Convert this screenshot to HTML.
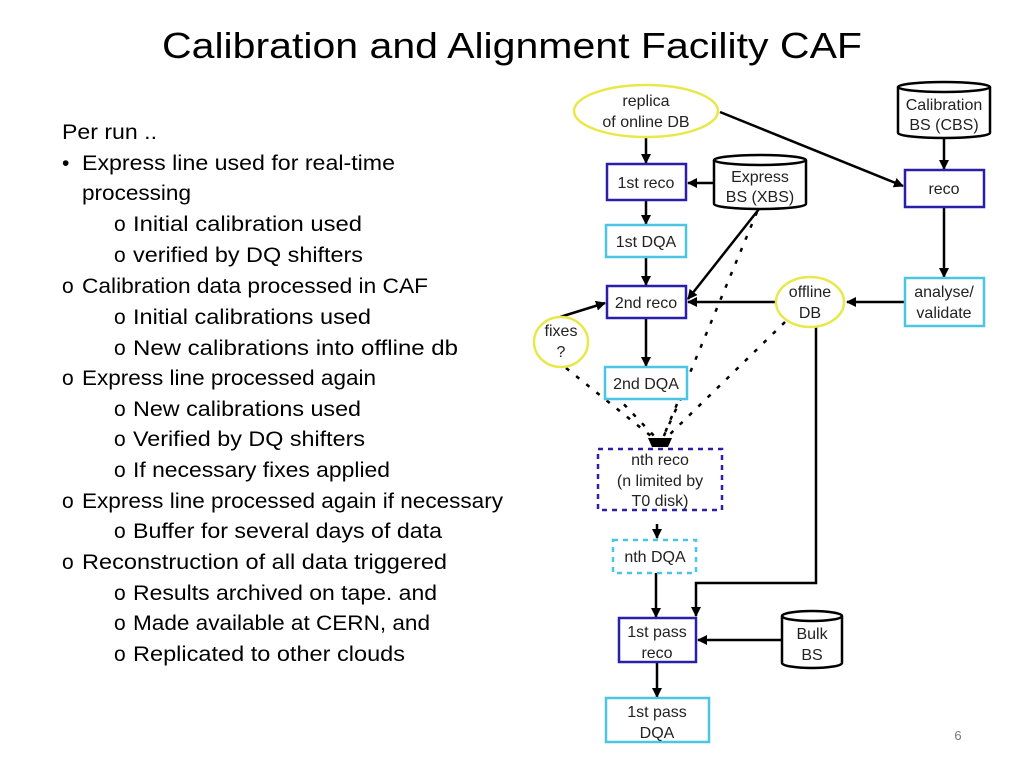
<!DOCTYPE html>
<html><head><meta charset="utf-8"><style>
html,body{margin:0;padding:0;background:#fff;}
svg{display:block;}
.t{font-family:"Liberation Sans",sans-serif;font-size:21px;fill:#000;}
.d{font-family:"Liberation Sans",sans-serif;font-size:16px;fill:#222;text-anchor:middle;}
</style></head><body>
<svg width="1024" height="768" viewBox="0 0 1024 768" xmlns="http://www.w3.org/2000/svg">
<defs>
<marker id="a" markerWidth="10" markerHeight="10" refX="9" refY="5" orient="auto" markerUnits="userSpaceOnUse"><path d="M0,0 L10,5 L0,10 z" fill="#000"/></marker>
</defs>
<text x="512" y="58" text-anchor="middle" style="font-family:'Liberation Sans',sans-serif;font-size:36px" textLength="700" lengthAdjust="spacingAndGlyphs">Calibration and Alignment Facility CAF</text>
<g class="t">
<text x="62" y="139" textLength="95" lengthAdjust="spacingAndGlyphs">Per run ..</text>
<text x="62" y="170">•</text>
<text x="82" y="170" textLength="313" lengthAdjust="spacingAndGlyphs">Express line used for real-time</text>
<text x="82" y="200" textLength="109" lengthAdjust="spacingAndGlyphs">processing</text>
<text x="114" y="231">o</text><text x="133" y="231" textLength="229" lengthAdjust="spacingAndGlyphs">Initial calibration used</text>
<text x="114" y="262">o</text><text x="133" y="262" textLength="230" lengthAdjust="spacingAndGlyphs">verified by DQ shifters</text>
<text x="62" y="293">o</text><text x="82" y="293" textLength="346" lengthAdjust="spacingAndGlyphs">Calibration data processed in CAF</text>
<text x="114" y="324">o</text><text x="133" y="324" textLength="238" lengthAdjust="spacingAndGlyphs">Initial calibrations used</text>
<text x="114" y="355">o</text><text x="133" y="355" textLength="325" lengthAdjust="spacingAndGlyphs">New calibrations into offline db</text>
<text x="62" y="385">o</text><text x="82" y="385" textLength="294" lengthAdjust="spacingAndGlyphs">Express line processed again</text>
<text x="114" y="416">o</text><text x="133" y="416" textLength="228" lengthAdjust="spacingAndGlyphs">New calibrations used</text>
<text x="114" y="446">o</text><text x="133" y="446" textLength="232" lengthAdjust="spacingAndGlyphs">Verified by DQ shifters</text>
<text x="114" y="477">o</text><text x="133" y="477" textLength="257" lengthAdjust="spacingAndGlyphs">If necessary fixes applied</text>
<text x="62" y="508">o</text><text x="82" y="508" textLength="421" lengthAdjust="spacingAndGlyphs">Express line processed again if necessary</text>
<text x="114" y="538">o</text><text x="133" y="538" textLength="309" lengthAdjust="spacingAndGlyphs">Buffer for several days of data</text>
<text x="62" y="569">o</text><text x="82" y="569" textLength="365" lengthAdjust="spacingAndGlyphs">Reconstruction of all data triggered</text>
<text x="114" y="600">o</text><text x="133" y="600" textLength="304" lengthAdjust="spacingAndGlyphs">Results archived on tape. and</text>
<text x="114" y="630">o</text><text x="133" y="630" textLength="297" lengthAdjust="spacingAndGlyphs">Made available at CERN, and</text>
<text x="114" y="661">o</text><text x="133" y="661" textLength="272" lengthAdjust="spacingAndGlyphs">Replicated to other clouds</text>
</g>
<text x="958" y="740" style="font-family:'Liberation Sans',sans-serif;font-size:13px;fill:#777" text-anchor="middle">6</text>

<g stroke="#000" stroke-width="2.5" fill="none">
<line x1="646" y1="138" x2="646" y2="163" marker-end="url(#a)"/>
<line x1="720" y1="112" x2="903" y2="186" marker-end="url(#a)"/>
<line x1="944" y1="138" x2="944" y2="169" marker-end="url(#a)"/>
<line x1="944" y1="207" x2="944" y2="277" marker-end="url(#a)"/>
<line x1="714" y1="183" x2="688" y2="183" marker-end="url(#a)"/>
<line x1="646" y1="200" x2="646" y2="224" marker-end="url(#a)"/>
<line x1="646" y1="257" x2="646" y2="285" marker-end="url(#a)"/>
<line x1="759" y1="209" x2="688" y2="299" marker-end="url(#a)"/>
<line x1="776" y1="302" x2="688" y2="302" marker-end="url(#a)"/>
<line x1="905" y1="302" x2="847" y2="302" marker-end="url(#a)"/>
<line x1="560" y1="317" x2="605" y2="303" marker-end="url(#a)"/>
<line x1="646" y1="318" x2="646" y2="366" marker-end="url(#a)"/>
<polyline points="816,326 816,583 696,583 696,616" marker-end="url(#a)"/>
<line x1="656" y1="573" x2="656" y2="617" marker-end="url(#a)"/>
<line x1="782" y1="640" x2="698" y2="640" marker-end="url(#a)"/>
<line x1="657" y1="662" x2="657" y2="697" marker-end="url(#a)"/>
<line x1="657" y1="524" x2="657" y2="538" marker-end="url(#a)"/>
</g>
<g stroke="#000" stroke-width="2.5" fill="none" stroke-dasharray="4,9">
<line x1="757" y1="212" x2="662" y2="440"/>
<line x1="785" y1="322" x2="664" y2="440"/>
<line x1="566" y1="368" x2="656" y2="440"/>
<line x1="687" y1="385" x2="662" y2="440"/>
<line x1="615" y1="395" x2="658" y2="440"/>
</g>
<path d="M648,438 L672,438 L668,447 L652,447 z" fill="#000"/>

<g stroke-width="2.5">
<ellipse cx="646" cy="111" rx="72" ry="26" fill="#fff" stroke="#e8e84a"/>
<ellipse cx="810" cy="302" rx="34" ry="25" fill="#fff" stroke="#e8e84a"/>
<ellipse cx="561" cy="342" rx="27" ry="25" fill="#fff" stroke="#e8e84a"/>
<rect x="607" y="164" width="79" height="36" fill="#fff" stroke="#2a1fa8"/>
<rect x="606" y="225" width="80" height="32" fill="#fff" stroke="#4cc4e4"/>
<rect x="607" y="286" width="79" height="32" fill="#fff" stroke="#2a1fa8"/>
<rect x="605" y="367" width="82" height="32" fill="#fff" stroke="#4cc4e4"/>
<rect x="905" y="170" width="79" height="37" fill="#fff" stroke="#2a1fa8"/>
<rect x="905" y="278" width="79" height="48" fill="#fff" stroke="#4cc4e4"/>
<rect x="598" y="449" width="124" height="61" fill="#fff" stroke="#2a1fa8" stroke-dasharray="5,5"/>
<rect x="613" y="540" width="83" height="33" fill="#fff" stroke="#4cc4e4" stroke-dasharray="5,5"/>
<rect x="619" y="618" width="77" height="44" fill="#fff" stroke="#2a1fa8"/>
<rect x="606" y="698" width="103" height="44" fill="#fff" stroke="#4cc4e4"/>
</g>
<g stroke="#000" stroke-width="2.5" fill="#fff">
<path d="M714,160 L714,204 A46,5 0 0 0 806,204 L806,160"/><ellipse cx="760" cy="160" rx="46" ry="5"/>
<path d="M898,87 L898,133 A46,5 0 0 0 990,133 L990,87"/><ellipse cx="944" cy="87" rx="46" ry="5"/>
<path d="M782,616 L782,663 A30,5 0 0 0 842,663 L842,616"/><ellipse cx="812" cy="616" rx="30" ry="5"/>
</g>
<g class="d">
<text x="646" y="106">replica</text><text x="646" y="127">of online DB</text>
<text x="646" y="188">1st reco</text>
<text x="760" y="182">Express</text><text x="760" y="202">BS (XBS)</text>
<text x="944" y="110">Calibration</text><text x="944" y="130">BS (CBS)</text>
<text x="944" y="194">reco</text>
<text x="646" y="247">1st DQA</text>
<text x="646" y="308">2nd reco</text>
<text x="810" y="297">offline</text><text x="810" y="318">DB</text>
<text x="944" y="297">analyse/</text><text x="944" y="318">validate</text>
<text x="561" y="336">fixes</text><text x="561" y="357">?</text>
<text x="646" y="389">2nd DQA</text>
<text x="660" y="465">nth reco</text><text x="660" y="486">(n limited by</text><text x="660" y="506">T0 disk)</text>
<text x="655" y="562">nth DQA</text>
<text x="657" y="637">1st pass</text><text x="657" y="658">reco</text>
<text x="812" y="639">Bulk</text><text x="812" y="660">BS</text>
<text x="657" y="717">1st pass</text><text x="657" y="738">DQA</text>
</g>
</svg>
</body></html>
